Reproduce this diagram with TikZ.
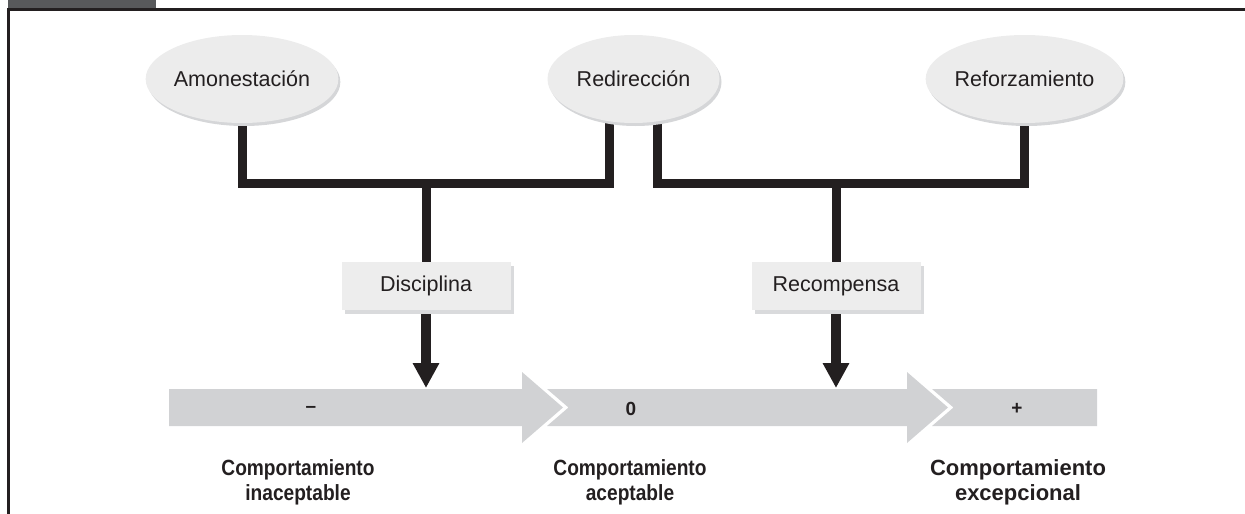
\documentclass[tikz,border=0pt]{standalone}
\usepackage{fontspec}
\setmainfont{Liberation Sans}
\newfontfamily\narrowsans[FakeStretch=0.87]{Liberation Sans}
\usetikzlibrary{shapes.geometric,arrows.meta,shadows,backgrounds}
\definecolor{ellfill}{HTML}{ECECEC}
\definecolor{ellshadow}{HTML}{D5D6D8}
\definecolor{bandgray}{HTML}{D1D2D4}
\definecolor{boxfill}{HTML}{EDEDED}
\definecolor{boxdark}{HTML}{D9DADC}
\definecolor{ink}{HTML}{231F20}
\definecolor{headgray}{HTML}{58595B}
\begin{document}
\begin{tikzpicture}[x=1pt,y=-1pt,
  oval/.style={ellipse, fill=ellfill, minimum width=172pt, minimum height=88pt, inner sep=0pt,
    text=ink, font=\fontsize{21.5}{24}\selectfont,
    drop shadow={shadow xshift=2pt, shadow yshift=-3pt, fill=ellshadow, opacity=1}},
  catbox/.style={rectangle, fill=boxfill, minimum width=169pt, minimum height=48pt, inner sep=0pt,
    text=ink, font=\fontsize{21.5}{24}\selectfont,
    drop shadow={shadow xshift=3pt, shadow yshift=-4pt, fill=boxdark, opacity=1}},
  conn/.style={draw=ink, line width=9pt},
  arr/.style={draw=ink, line width=10pt, -{Triangle[width=25pt,length=25pt]}},
  band/.style={fill=bandgray},
  bandlabel/.style={text=ink, font=\bfseries\fontsize{19}{21}\selectfont, inner sep=0pt},
  cat/.style={text=ink, font=\bfseries\fontsize{22}{25}\selectfont, align=center, anchor=north, inner sep=0pt},
  catnarrow/.style={cat, font=\narrowsans\bfseries\fontsize{22}{25}\selectfont}
]
\useasboundingbox (0,0) rectangle (1245,514);
% header
\fill[headgray] (8,0) rectangle (156,9);
\draw[ink, line width=3pt] (8.5,514) -- (8.5,9.5) -- (1245,9.5);

% ovals
\node[oval] (amon) at (242,79) {Amonestación};
\node[oval] (redir) at (633.5,79) {Redirección};
\node[oval] (refo) at (1024.5,79) {Reforzamiento};

% boxes
\node[catbox] (disc) at (426,286) {Disciplina};
\node[catbox] (reco) at (836,286) {Recompensa};

\coordinate (jL) at (426,183.5);
\coordinate (jR) at (836,183.5);
\coordinate (tipL) at (426,388);
\coordinate (tipR) at (836,388);

\begin{scope}[on background layer]
\draw[conn] (amon.center) |- (jL) -| ([xshift=-24pt]redir.center);
\draw[conn] ([xshift=24pt]redir.center) |- (jR) -| (refo.center);
\draw[conn] (jL) -- (disc.center);
\draw[conn] (jR) -- (reco.center);
\end{scope}

% band
\fill[band] (169,389) -- (522,389) -- (522,372) -- (563,407.5) -- (522,443) -- (522,426) -- (169,426) -- cycle;
\fill[band] (547,389) -- (907,389) -- (907,372) -- (948,407.5) -- (907,443) -- (907,426) -- (547,426) -- (568.5,407.5) -- cycle;
\fill[band] (932,389) -- (1097,389) -- (1097,426) -- (932,426) -- (953.5,407.5) -- cycle;

\draw[arr] ([yshift=-4pt]disc.south) -- (tipL);
\draw[arr] ([yshift=-4pt]reco.south) -- (tipR);

\node[bandlabel] (neg) at (311,409) {–};
\node[bandlabel] (zero) at (631,409) {0};
\node[bandlabel] (pos) at (1017,409) {+};

\node[catnarrow] (c1) at (298,459) {Comportamiento\\inaceptable};
\node[catnarrow] (c2) at (630,459) {Comportamiento\\aceptable};
\node[cat] (c3) at (1018,459) {Comportamiento\\excepcional};
\end{tikzpicture}
\end{document}
